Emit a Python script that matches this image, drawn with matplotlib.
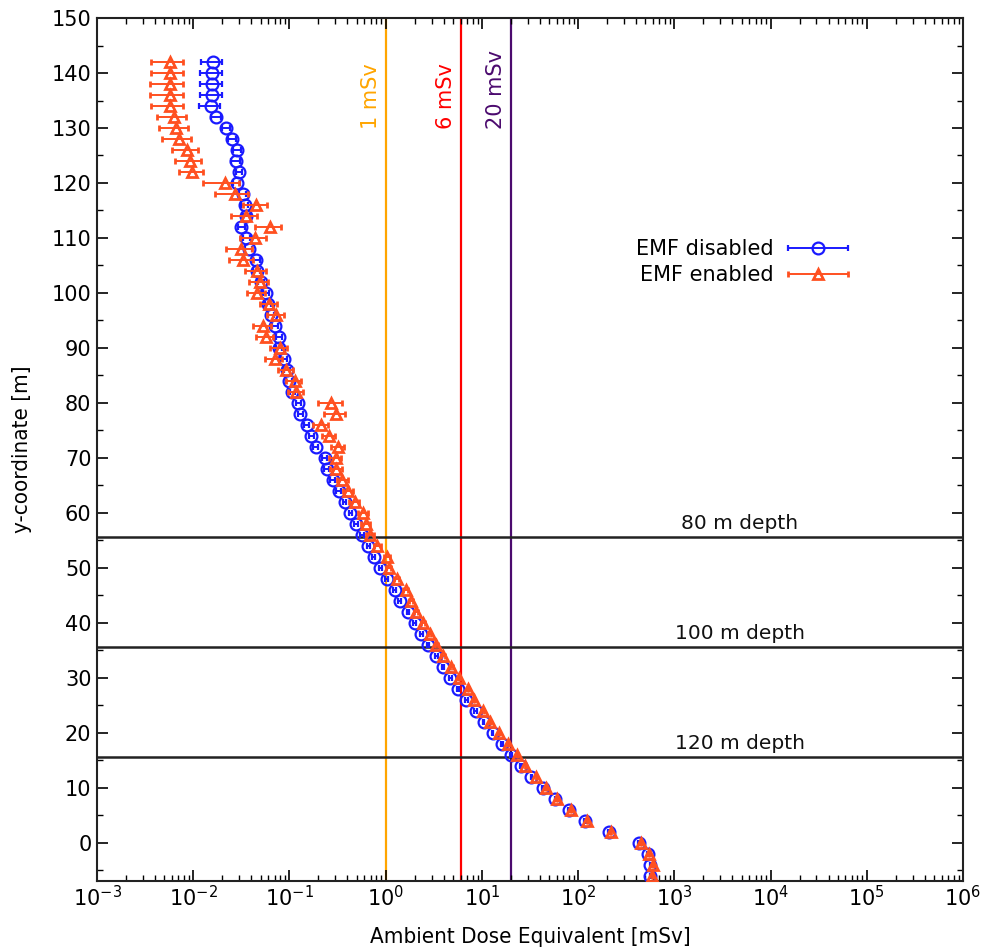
import numpy as np
import matplotlib
matplotlib.use("Agg")
import matplotlib.pyplot as plt
from matplotlib.ticker import MultipleLocator, LogLocator, NullFormatter
from matplotlib.legend_handler import HandlerErrorbar
from matplotlib.container import ErrorbarContainer

# ---------------- data ----------------
y_coord = [142, 140, 138, 136, 134, 132, 130, 128, 126, 124,
           122, 120, 118, 116, 114, 112, 110, 108, 106, 104,
           102, 100, 98, 96, 94, 92, 90, 88, 86, 84,
           82, 80, 78, 76, 74, 72, 70, 68, 66, 64,
           62, 60, 58, 56, 54, 52, 50, 48, 46, 44,
           42, 40, 38, 36, 34, 32, 30, 28, 26, 24,
           22, 20, 18, 16, 14, 12, 10, 8, 6, 4,
           2, 0, -2, -4, -6]

dose_emf_off = [0.0160, 0.0158, 0.0158, 0.0158, 0.0152, 0.0174, 0.0221, 0.0255, 0.0285, 0.0276,
                0.0300, 0.0282, 0.0327, 0.0342, 0.0356, 0.0316, 0.0356, 0.0379, 0.0453, 0.0459,
                0.0510, 0.0566, 0.0598, 0.0649, 0.0702, 0.0778, 0.0778, 0.088, 0.094, 0.100,
                0.107, 0.123, 0.130, 0.152, 0.169, 0.187, 0.232, 0.245, 0.283, 0.327,
                0.375, 0.43, 0.49, 0.57, 0.66, 0.75, 0.88, 1.02, 1.24, 1.40,
                1.71, 2.0, 2.35, 2.75, 3.37, 3.94, 4.7, 5.65, 6.9, 8.6,
                10.4, 12.9, 16.3, 20.2, 25.3, 32.7, 43, 58, 80.5, 117,
                208, 430, 533, 564, 564]

rel_err_off = [0.25, 0.25, 0.25, 0.25, 0.25, 0.12, 0.10, 0.10, 0.10, 0.10,
               0.08, 0.08, 0.08, 0.08, 0.08, 0.08, 0.08, 0.08, 0.08, 0.08,
               0.07, 0.07, 0.07, 0.07, 0.07, 0.07, 0.07, 0.07, 0.07, 0.07,
               0.06, 0.06, 0.06, 0.06, 0.06, 0.06, 0.06, 0.06, 0.06, 0.06,
               0.04, 0.04, 0.04, 0.04, 0.04, 0.04, 0.04, 0.04, 0.04, 0.04,
               0.03, 0.03, 0.03, 0.03, 0.03, 0.03, 0.03, 0.03, 0.03, 0.03,
               0.02, 0.02, 0.02, 0.02, 0.02, 0.02, 0.02, 0.02, 0.02, 0.02,
               0.02, 0.02, 0.02, 0.02, 0.02]

dose_emf_on = [0.00578, 0.00578, 0.00569, 0.00569, 0.00578, 0.00625, 0.00656, 0.00705, 0.0086, 0.0092,
               0.0098, 0.0212, 0.0269, 0.0453, 0.0351, 0.0633, 0.0435, 0.0316, 0.0329, 0.0459,
               0.049, 0.0459, 0.0612, 0.0731, 0.053, 0.0566, 0.079, 0.070, 0.093, 0.113,
               0.118, 0.272, 0.302, 0.214, 0.257, 0.319, 0.302, 0.307, 0.355, 0.406,
               0.476, 0.58, 0.62, 0.69, 0.82, 1.03, 1.08, 1.31, 1.61, 1.85,
               2.08, 2.44, 2.87, 3.37, 3.94, 4.82, 5.78, 7.17, 8.3, 10.2,
               12.1, 15.0, 18.7, 23.2, 28.3, 36.9, 46.0, 60.4, 83.8, 125,
               217, 448, 546, 601, 592]

rel_err_on = [0.37, 0.37, 0.37, 0.37, 0.37, 0.33, 0.33, 0.33, 0.30, 0.30,
              0.28, 0.40, 0.38, 0.28, 0.30, 0.30, 0.30, 0.30, 0.28, 0.25,
              0.22, 0.22, 0.20, 0.20, 0.22, 0.20, 0.20, 0.20, 0.18, 0.18,
              0.18, 0.28, 0.25, 0.18, 0.16, 0.15, 0.15, 0.14, 0.13, 0.12,
              0.12, 0.12, 0.10, 0.10, 0.08, 0.07, 0.06, 0.06, 0.05, 0.05,
              0.05, 0.04, 0.04, 0.04, 0.04, 0.03, 0.03, 0.03, 0.03, 0.03,
              0.03, 0.03, 0.02, 0.02, 0.02, 0.02, 0.02, 0.02, 0.02, 0.02,
              0.02, 0.02, 0.02, 0.02, 0.02]

limit_values = [1, 6, 20]
limit_labels = ["1 mSv", "6 mSv", "20 mSv"]
limit_colors = ["#ffa500", "#ff0000", "#4b0a6e"]

depth_levels = [55.6, 35.6, 15.6]
depth_labels = ["80 m depth", "100 m depth", "120 m depth"]

series_labels = ["EMF disabled", "EMF enabled"]

# ---------------- plot ----------------
plt.rcParams["font.family"] = ["DejaVu Sans"]
plt.rcParams["font.size"] = 15

fig = plt.figure(figsize=(9.85, 9.5), dpi=100)
ax = fig.add_axes([0.0985, 0.0726, 0.8792, 0.9084])

blue = "#1a1aff"
orange = "#ff5020"

y = np.array(y_coord, dtype=float)
x_off = np.array(dose_emf_off)
x_on = np.array(dose_emf_on)

for v, c in zip(limit_values, limit_colors):
    ax.axvline(v, color=c, lw=1.6, zorder=1)
for d in depth_levels:
    ax.axhline(d, color="#222222", lw=1.8, zorder=1)

ax.errorbar(x_off, y, xerr=x_off * np.array(rel_err_off), fmt="o", ms=8.5,
            mfc="none", mec=blue, mew=1.6, color=blue, ecolor=blue,
            elinewidth=1.4, capsize=2.5, capthick=1.4, zorder=3,
            label=series_labels[0])
ax.errorbar(x_on, y, xerr=x_on * np.array(rel_err_on), fmt="^", ms=7,
            mfc="none", mec=orange, mew=2.0, color=orange, ecolor=orange,
            elinewidth=1.4, capsize=2.5, capthick=1.4, zorder=4,
            label=series_labels[1])

ax.set_xscale("log")
ax.set_xlim(1e-3, 1e6)
ax.set_ylim(-7, 150)

for v, lab, c in zip(limit_values, limit_labels, limit_colors):
    ax.text(v * 0.70, 129.8, lab, color=c, rotation=90, ha="center",
            va="bottom", fontsize=15)

for d, lab in zip(depth_levels, depth_labels):
    ax.text(4800, d + 0.7, lab, color="#111111", ha="center", va="bottom",
            fontsize=14.5)

ax.yaxis.set_major_locator(MultipleLocator(10))
ax.yaxis.set_minor_locator(MultipleLocator(5))
ax.xaxis.set_major_locator(LogLocator(base=10, numticks=20))
ax.xaxis.set_minor_locator(LogLocator(base=10, subs=np.arange(2, 10), numticks=20))
ax.xaxis.set_minor_formatter(NullFormatter())
ax.tick_params(which="both", direction="in", top=True, right=True, labelsize=15)
ax.tick_params(which="major", length=8, width=1.2)
ax.tick_params(which="minor", length=4, width=1.0)
ax.tick_params(axis="x", which="major", pad=3)
ax.tick_params(axis="y", which="major", pad=4)
for s in ax.spines.values():
    s.set_linewidth(1.5)
    s.set_color("#222222")

ax.set_xlabel("Ambient Dose Equivalent [mSv]", fontsize=16, labelpad=12,
              fontstretch="condensed")
ax.set_ylabel("y-coordinate [m]", fontsize=16, labelpad=14,
              fontstretch="condensed")

ax.legend(loc="center right", bbox_to_anchor=(0.89, 0.717), frameon=False,
          markerfirst=False, handlelength=3.0, fontsize=15, labelspacing=0.3,
          handletextpad=0.6,
          handler_map={ErrorbarContainer: HandlerErrorbar(xerr_size=1.45)})

fig.savefig("out.png", dpi=100)
